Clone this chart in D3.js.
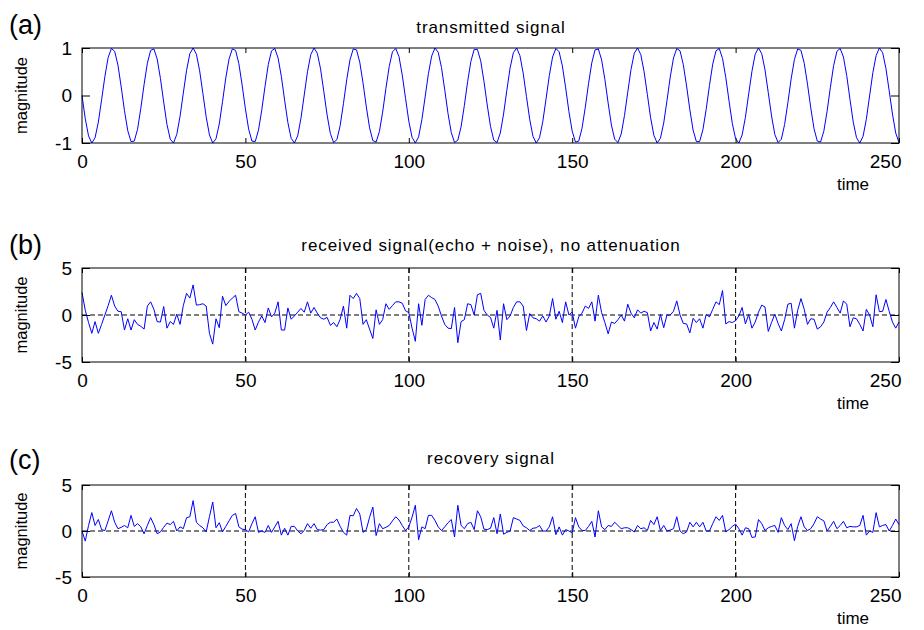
<!DOCTYPE html>
<html>
<head>
<meta charset="utf-8">
<script src="https://d3js.org/d3.v7.min.js"></script>
<style>
  body { margin: 0; background: #fff; }
  text { font-family: "Liberation Sans", Arial, Helvetica, sans-serif; fill: #000; }
  .tick line { stroke: #000; }
</style>
</head>
<body>
<svg id="chart" width="924" height="630"></svg>
<script>
// ---- data (time runs 0..250, one sample per unit) ----
var xTicks = [0, 50, 100, 150, 200, 250];
var gridX = [50, 100, 150, 200];

var transmitted = [
 0, -0.49, -0.85, -1.00, -0.89, -0.56, -0.09, 0.40, 0.80, 0.99,
 0.93, 0.64, 0.18, -0.32, -0.74, -0.97, -0.96, -0.71, -0.27, 0.23,
 0.68, 0.95, 0.98, 0.77, 0.36, -0.14, -0.61, -0.92, -1.00, -0.82,
 -0.44, 0.05, 0.53, 0.88, 1.00, 0.87, 0.52, 0.04, -0.45, -0.83,
 -1.00, -0.91, -0.60, -0.13, 0.37, 0.77, 0.98, 0.95, 0.67, 0.22,
 -0.28, -0.71, -0.96, -0.97, -0.73, -0.31, 0.19, 0.65, 0.94, 0.99,
 0.79, 0.40, -0.10, -0.57, -0.90, -1.00, -0.85, -0.48, 0.01, 0.50,
 0.86, 1.00, 0.89, 0.56, 0.08, -0.41, -0.80, -0.99, -0.93, -0.63,
 -0.17, 0.33, 0.75, 0.98, 0.96, 0.70, 0.26, -0.24, -0.68, -0.95,
 -0.98, -0.76, -0.35, 0.15, 0.61, 0.92, 0.99, 0.82, 0.43, -0.06,
 -0.54, -0.88, -1.00, -0.87, -0.51, -0.03, 0.46, 0.83, 1.00, 0.91,
 0.59, 0.12, -0.38, -0.78, -0.99, -0.94, -0.66, -0.21, 0.29, 0.72,
 0.97, 0.97, 0.73, 0.30, -0.20, -0.65, -0.94, -0.99, -0.79, -0.39,
 0.11, 0.58, 0.90, 1.00, 0.84, 0.47, -0.02, -0.50, -0.86, -1.00,
 -0.89, -0.55, -0.07, 0.42, 0.81, 0.99, 0.92, 0.62, 0.16, -0.34,
 -0.75, -0.98, -0.96, -0.69, -0.25, 0.25, 0.69, 0.96, 0.98, 0.75,
 0.34, -0.16, -0.62, -0.92, -0.99, -0.81, -0.42, 0.07, 0.55, 0.89,
 1.00, 0.86, 0.50, 0.02, -0.47, -0.84, -1.00, -0.90, -0.58, -0.11,
 0.39, 0.79, 0.99, 0.94, 0.65, 0.20, -0.30, -0.73, -0.97, -0.97,
 -0.72, -0.29, 0.21, 0.66, 0.94, 0.99, 0.78, 0.38, -0.12, -0.59,
 -0.91, -1.00, -0.83, -0.46, 0.03, 0.51, 0.87, 1.00, 0.88, 0.54,
 0.06, -0.43, -0.82, -0.99, -0.92, -0.61, -0.15, 0.35, 0.76, 0.98,
 0.95, 0.68, 0.24, -0.26, -0.70, -0.96, -0.98, -0.75, -0.33, 0.17,
 0.63, 0.93, 0.99, 0.81, 0.42, -0.08, -0.56, -0.89, -1.00, -0.86,
 -0.50, -0.01, 0.48, 0.84, 1.00, 0.90, 0.57, 0.10, -0.39, -0.79,
 -0.99
];

var received = [
 2.4, 0.5, -0.8, -1.95, -0.7, -1.95, -1.0, 0, 1.0, 2.1,
 0.95, 0.4, 0.35, -1.6, -0.4, -1.6, -0.5, -1.0, -1.2, -1.5,
 0.95, 1.4, 0.6, -0.7, -0.75, 0.9, -1.4, -0.7, -1.0, 0.1,
 -1.0, 1.0, 2.3, 1.8, 3.2, 1.05, 1.1, 1.2, 0.95, -1.95,
 -3.1, -0.4, -1.35, 2.0, 1.0, 1.45, 1.8, 2.1, 0.35, 0.2,
 0, 0.3, -0.45, -1.6, -0.75, -0.1, -0.8, 0.75, -0.2, 0.2,
 1.4, -1.6, -1.6, 0.75, -0.45, -0.1, 0.3, 0.7, 0.3, 1.4,
 0.2, 0.8, 0.2, -0.3, -0.45, -0.25, -1.1, -0.8, -1.25, -0.45,
 0.95, -1.4, 2.1, 1.75, 2.3, 1.75, -1.0, -0.5, -1.5, -2.5,
 0.55, -1.0, -0.5, 1.2, 0.6, 1.0, 1.4, 1.4, 1.25, 0.45,
 0.25, -1.4, -2.8, 1.2, -1.1, 1.65, 2.1, 1.85, 1.65, 0.95,
 -0.1, -1.0, -1.4, -1.45, 0.8, -2.95, -0.7, -0.5, 1.2, 1.1,
 0, 2.15, 2.3, 0.5, 0, -0.25, -1.4, 0.5, -2.65, 1.2,
 -0.5, -0.1, 0.8, 1.4, 1.4, 0.95, -1.65, 0.15, -0.3, -0.4,
 -0.65, -0.1, -0.75, -0.1, 1.75, -0.45, 0.4, -0.8, 1.4, 0,
 0.3, -1.4, -0.2, 0.2, 0.95, 0.7, 1.4, -0.65, 2.1, 0.25,
 -0.8, -2.0, -0.75, -0.9, -0.5, 0, -0.65, 1.15, 0.2, -0.3,
 0.55, 0.2, 0.4, 0.25, -1.7, -0.8, -1.5, 0.05, -1.35, 0,
 0, 0.4, 1.5, 0, -0.9, -0.95, -1.9, -0.35, -0.8, -0.4,
 -1.4, 0.05, -0.2, 0.6, 1.4, 1.1, 2.6, -0.95, -0.7, -0.8,
 -0.6, -0.1, 0.8, -0.95, 0.05, -1.4, -0.75, 0.3, 1.05, 0.85,
 -1.75, -0.8, 0.1, -0.9, -1.7, -0.5, 1.15, 1.25, -1.4, 0.5,
 1.75, 0.6, -1.0, -0.4, -0.45, -1.5, -1.25, -0.75, 0.3, 0.8,
 1.4, 0.8, 0.2, 1.5, 1.15, -1.25, -0.3, -0.4, -1.0, -1.7,
 0.6, 0, -1.25, 2.15, 0.35, 0.4, 1.65, 0.4, -0.75, -1.4,
 -0.75
];

var recovery = [
 0, -1.1, 0.6, 2.0, 0.6, 1.25, 0.15, 0.05, 1.1, 2.2,
 0.95, 0.25, 0.4, 0.6, 0.35, 1.7, 0.5, 0.8, 0.45, -0.3,
 0.6, 1.45, 0.7, -0.3, -0.1, 0.4, 0.85, 0.7, 1.05, 0,
 0.45, 0.25, 1.45, 1.55, 3.3, 0.95, 0.6, 0.35, -0.1, 1.55,
 3.15, 0.35, 0.9, -0.1, 0.5, 1.1, 1.7, 1.9, 0.45, 0.2,
 0.15, -0.1, 0.8, 1.55, -0.15, 0, -0.15, 0.6, -0.15, 0.45,
 1.05, -0.45, 0.3, -0.45, 0.5, 0.5, 0, -0.3, 0.05, 0.8,
 0.3, 0.8, 0.15, 0.1, 0.15, 0.7, 0.95, 0.95, 1.3, 0.5,
 -0.15, -0.45, 1.7, 1.65, 2.45, 1.85, -0.15, 0.15, 1.5, 2.6,
 -0.5, 0.8, 0.25, 0.4, 0.6, 1.1, 1.55, 1.2, 0.6, 0.05,
 0.45, 1.5, 2.8, -0.95, 0.45, 0.25, 1.7, 1.7, 1.15, 0.45,
 0.05, 0.45, 0.9, 1.25, -0.65, 2.8, 0.6, 0.25, 0.8, 0.95,
 0.15, 2.2, 1.55, 0.2, 0.15, 0.3, 1.45, -0.3, 1.85, -0.35,
 -0.15, 0, 1.45, 1.3, 1.15, 0.55, 0.35, 0.05, 0.3, 0.35,
 0.6, 0, 0, 0.45, 1.55, -0.4, 0.45, -0.45, 0.15, 0,
 -0.2, 1.45, 0.45, 0.05, 0.05, 0.5, 1.05, -0.65, 2.2, 0.45,
 0.15, 0.6, 0.5, 0.95, 0.6, 0.25, 0.35, 0.35, 0.15, -0.1,
 0.6, 0.25, 0.35, 0.05, 1.15, 0.7, 1.55, 0.05, 0.6, 0,
 0.1, 0.25, 1.55, 0, -0.3, -0.1, 0.95, 0.45, 0.95, 0.45,
 0.95, 0, 0, 0.8, 1.55, 1.15, 1.7, -0.1, 0.15, 0.5,
 0.75, 0.25, -0.45, 0.35, 0.25, -0.7, -0.65, 1.25, 0.8, 0.05,
 0.35, 0.5, 0.6, -0.15, 1.45, 0.6, 0.15, 0.8, -1.05, 0.5,
 1.55, 0.45, 0.05, 0.25, 0.8, 1.55, 1.3, 1.1, 0, 0.5,
 1.05, 0.25, 0.6, 1.05, 0.35, 0.5, 0.45, 0.45, 0.6, 1.7,
 -0.45, 0, -0.15, 2.0, 0.45, 0.6, 0.7, 0, 0.6, 1.3,
 0.7
];

// ---- layout ----
var panels = [
  {tag: "(a)", title: "transmitted signal", values: transmitted, yDomain: [-1, 1], yTicks: [-1, 0, 1],
   top: 48, bottom: 143, grid: false, tagY: 34, titleY: 33},
  {tag: "(b)", title: "received signal(echo + noise), no attenuation", values: received, yDomain: [-5, 5], yTicks: [-5, 0, 5],
   top: 268, bottom: 362, grid: true, tagY: 254, titleY: 251},
  {tag: "(c)", title: "recovery signal", values: recovery, yDomain: [-5, 5], yTicks: [-5, 0, 5],
   top: 485, bottom: 577, grid: true, tagY: 469, titleY: 464}
];

var svg = d3.select("#chart");
svg.append("rect").attr("width", 924).attr("height", 630).attr("fill", "#fff");

var x = d3.scaleLinear().domain([0, 250]).range([82, 899]);
var fmt = function(d) { return String(d); };   // plain hyphen minus, no decimals

panels.forEach(function(p) {
  var y = d3.scaleLinear().domain(p.yDomain).range([p.bottom, p.top]);
  var g = svg.append("g");

  if (p.grid) {
    g.selectAll(".vgrid").data(gridX).enter().append("line")
      .attr("x1", function(d) { return x(d); }).attr("x2", function(d) { return x(d); })
      .attr("y1", p.top).attr("y2", p.bottom)
      .attr("stroke", "#000").attr("stroke-width", 1).attr("stroke-dasharray", "5,3");
    g.append("line")
      .attr("x1", x(0)).attr("x2", x(250)).attr("y1", y(0)).attr("y2", y(0))
      .attr("stroke", "#000").attr("stroke-width", 1).attr("stroke-dasharray", "5,3");
  }

  var line = d3.line().x(function(d, i) { return x(i); }).y(function(d) { return y(d); });
  g.append("path").datum(p.values)
    .attr("d", line).attr("fill", "none").attr("stroke", "#0000ff").attr("stroke-width", 1);

  // inside ticks like the original plot
  var bottomAxis = g.append("g").attr("transform", "translate(0," + p.bottom + ")")
    .call(d3.axisBottom(x).tickValues(xTicks).tickSize(-5).tickPadding(12).tickFormat(fmt));
  g.append("g").attr("transform", "translate(0," + p.top + ")")
    .call(d3.axisTop(x).tickValues(xTicks).tickSize(-5).tickFormat(""));
  var leftAxis = g.append("g").attr("transform", "translate(82,0)")
    .call(d3.axisLeft(y).tickValues(p.yTicks).tickSize(-8).tickPadding(10).tickFormat(fmt));
  g.append("g").attr("transform", "translate(899,0)")
    .call(d3.axisRight(y).tickValues(p.yTicks).tickSize(-8).tickFormat(""));

  g.selectAll(".domain").remove();
  bottomAxis.selectAll("text").attr("font-size", 19).attr("font-family", "Liberation Sans, Arial, sans-serif");
  leftAxis.selectAll("text").attr("font-size", 19).attr("font-family", "Liberation Sans, Arial, sans-serif");
  // last label sits flush with the right edge
  bottomAxis.selectAll(".tick").filter(function(d) { return d === 250; })
    .select("text").attr("text-anchor", "end").attr("x", 2);

  g.append("rect")
    .attr("x", 82).attr("y", p.top).attr("width", 899 - 82).attr("height", p.bottom - p.top)
    .attr("fill", "none").attr("stroke", "#000").attr("stroke-width", 1);

  g.append("text").attr("x", 9).attr("y", p.tagY).attr("font-size", 27).text(p.tag);
  g.append("text").attr("x", 491).attr("y", p.titleY).attr("text-anchor", "middle")
    .attr("font-size", 17).attr("letter-spacing", 0.9).text(p.title);
  g.append("text")
    .attr("transform", "translate(27," + ((p.top + p.bottom) / 2) + ") rotate(-90)")
    .attr("text-anchor", "middle").attr("font-size", 16.5).text("magnitude");
  g.append("text").attr("x", 853).attr("y", p.bottom + 47).attr("text-anchor", "middle")
    .attr("font-size", 17).text("time");
});
</script>
</body>
</html>
